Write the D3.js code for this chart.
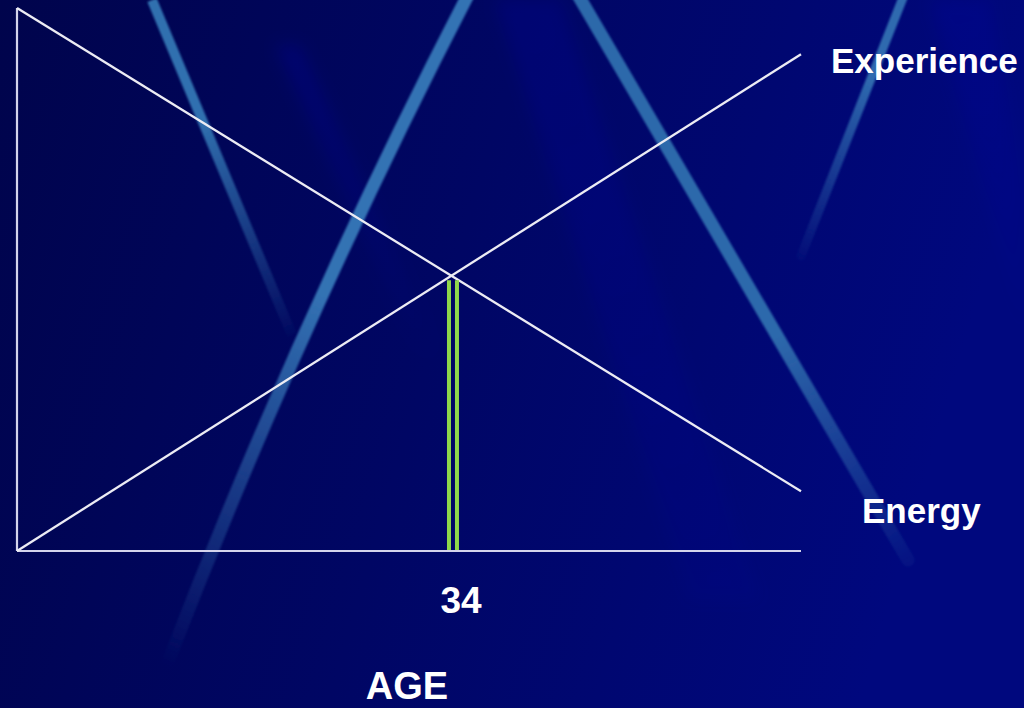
<!DOCTYPE html>
<html><head><meta charset="utf-8">
<script src="https://cdn.jsdelivr.net/npm/d3@7"></script>
<style>html,body{margin:0;padding:0;background:#000650;overflow:hidden}</style>
</head><body>
<svg id="chart" width="1024" height="708"></svg>
<script>
// ---- data ----
const ages = [0, 61];
const energy = [100, 11];
const experience = [0, 91.5];
const markAge = 34;
const tickLabels = ["34"];
const seriesNames = ["Experience", "Energy"];
const axisTitle = "AGE";

const svg = d3.select("#chart");
const W = 1024, H = 708;
const defs = svg.append("defs");

// background gradient
const bg = defs.append("linearGradient").attr("id","bg").attr("x1","0").attr("x2","1").attr("y1","0").attr("y2","0.2");
bg.append("stop").attr("offset","0").attr("stop-color","#00044c");
bg.append("stop").attr("offset","0.5").attr("stop-color","#000664");
bg.append("stop").attr("offset","1").attr("stop-color","#00087e");
svg.append("rect").attr("width",W).attr("height",H).attr("fill","url(#bg)");

defs.append("filter").attr("id","blur").attr("x","-50%").attr("y","-50%").attr("width","200%").attr("height","200%")
  .append("feGaussianBlur").attr("stdDeviation",1.2);
defs.append("filter").attr("id","blur2").attr("filterUnits","userSpaceOnUse").attr("x",0).attr("y",0).attr("width",W).attr("height",H)
  .append("feGaussianBlur").attr("stdDeviation",8);

function fadeGrad(id, x1,y1,x2,y2, color, o1, o2, mid){
  const gr = defs.append("linearGradient").attr("id",id).attr("gradientUnits","userSpaceOnUse")
    .attr("x1",x1).attr("y1",y1).attr("x2",x2).attr("y2",y2);
  gr.append("stop").attr("offset",0).attr("stop-color",color).attr("stop-opacity",o1);
  if (mid!==undefined) gr.append("stop").attr("offset",mid).attr("stop-color",color).attr("stop-opacity",o1);
  gr.append("stop").attr("offset",1).attr("stop-color",color).attr("stop-opacity",o2);
}
const deco = svg.append("g");
// faint broad dark-blue streaks
fadeGrad("f1",280,40,440,360,"#0a18b0",0.25,0.0);
deco.append("path").attr("d","M275,45 L300,45 L445,360 L420,360 Z").attr("fill","url(#f1)").attr("filter","url(#blur2)");
fadeGrad("f2",500,0,720,560,"#0a14a8",0.22,0.08);
deco.append("path").attr("d","M495,0 L560,0 L760,600 L690,600 Z").attr("fill","url(#f2)").attr("filter","url(#blur2)");
fadeGrad("f3",940,0,1024,300,"#0a14b0",0.2,0.05);
deco.append("path").attr("d","M930,0 L990,0 L1024,200 L1024,330 Z").attr("fill","url(#f3)").attr("filter","url(#blur2)");

// light streaks
fadeGrad("s1",150,0,300,340,"#3376b4",0.95,0.0,0.35);
deco.append("path").attr("d","M152,0 L292,335").attr("stroke","url(#s1)").attr("stroke-width",10).attr("fill","none").attr("filter","url(#blur)");
fadeGrad("s2",468,0,165,665,"#3678b8",0.95,0.0,0.45);
deco.append("path").attr("d","M468,-5 Q300,320 168,662").attr("stroke","url(#s2)").attr("stroke-width",13).attr("fill","none").attr("stroke-linecap","round").attr("filter","url(#blur)");
fadeGrad("s3",578,0,908,560,"#3274b2",0.9,0.1,0.6);
deco.append("path").attr("d","M578,-5 L908,560").attr("stroke","url(#s3)").attr("stroke-width",13).attr("fill","none").attr("stroke-linecap","round").attr("filter","url(#blur)");
fadeGrad("s4",904,0,800,258,"#3476b6",0.9,0.05,0.3);
deco.append("path").attr("d","M904,-5 L801,256").attr("stroke","url(#s4)").attr("stroke-width",9).attr("fill","none").attr("stroke-linecap","round").attr("filter","url(#blur)");

// ---- scales ----
const x = d3.scaleLinear().domain([ages[0], ages[1]]).range([17, 801]);
const y = d3.scaleLinear().domain([0, 100]).range([551, 8]);

const g = svg.append("g");

// axes
g.append("line").attr("x1",x(ages[0])).attr("x2",x(ages[0])).attr("y1",y(0)).attr("y2",y(100))
  .attr("stroke","#d4d4ec").attr("stroke-width",2.2);
g.append("line").attr("x1",x(ages[0])).attr("x2",x(ages[1])).attr("y1",y(0)).attr("y2",y(0))
  .attr("stroke","#d4d4ec").attr("stroke-width",2.2);

const line = d3.line().x(d=>x(d[0])).y(d=>y(d[1]));
g.append("path").datum(ages.map((a,i)=>[a,energy[i]])).attr("d",line)
  .attr("fill","none").attr("stroke","#ececf4").attr("stroke-width",2.3);
g.append("path").datum(ages.map((a,i)=>[a,experience[i]])).attr("d",line)
  .attr("fill","none").attr("stroke","#ececf4").attr("stroke-width",2.3);

// marker at intersection age
const eAt = d3.scaleLinear().domain(ages).range(energy);
const markTop = y(eAt(markAge)) + 3;
[-5, 3].forEach(off=>{
  g.append("line").attr("x1",x(markAge)+off).attr("x2",x(markAge)+off).attr("y1",markTop).attr("y2",y(0)-1)
    .attr("stroke","#8fd84a").attr("stroke-width",4);
});

// labels
const font = "'Liberation Sans', Arial, sans-serif";
g.append("text").attr("x",x(markAge)+7).attr("y",613).attr("text-anchor","middle")
  .attr("font-family",font).attr("font-weight","bold").attr("font-size",37).attr("fill","#ffffff").text(tickLabels[0]);
g.append("text").attr("x",407).attr("y",699).attr("text-anchor","middle")
  .attr("font-family",font).attr("font-weight","bold").attr("font-size",38).attr("fill","#ffffff").text(axisTitle);
g.append("text").attr("x",831).attr("y",73)
  .attr("font-family",font).attr("font-weight","bold").attr("font-size",35).attr("fill","#ffffff").text(seriesNames[0]);
g.append("text").attr("x",862).attr("y",523)
  .attr("font-family",font).attr("font-weight","bold").attr("font-size",35).attr("fill","#ffffff").text(seriesNames[1]);
</script>
</body></html>
